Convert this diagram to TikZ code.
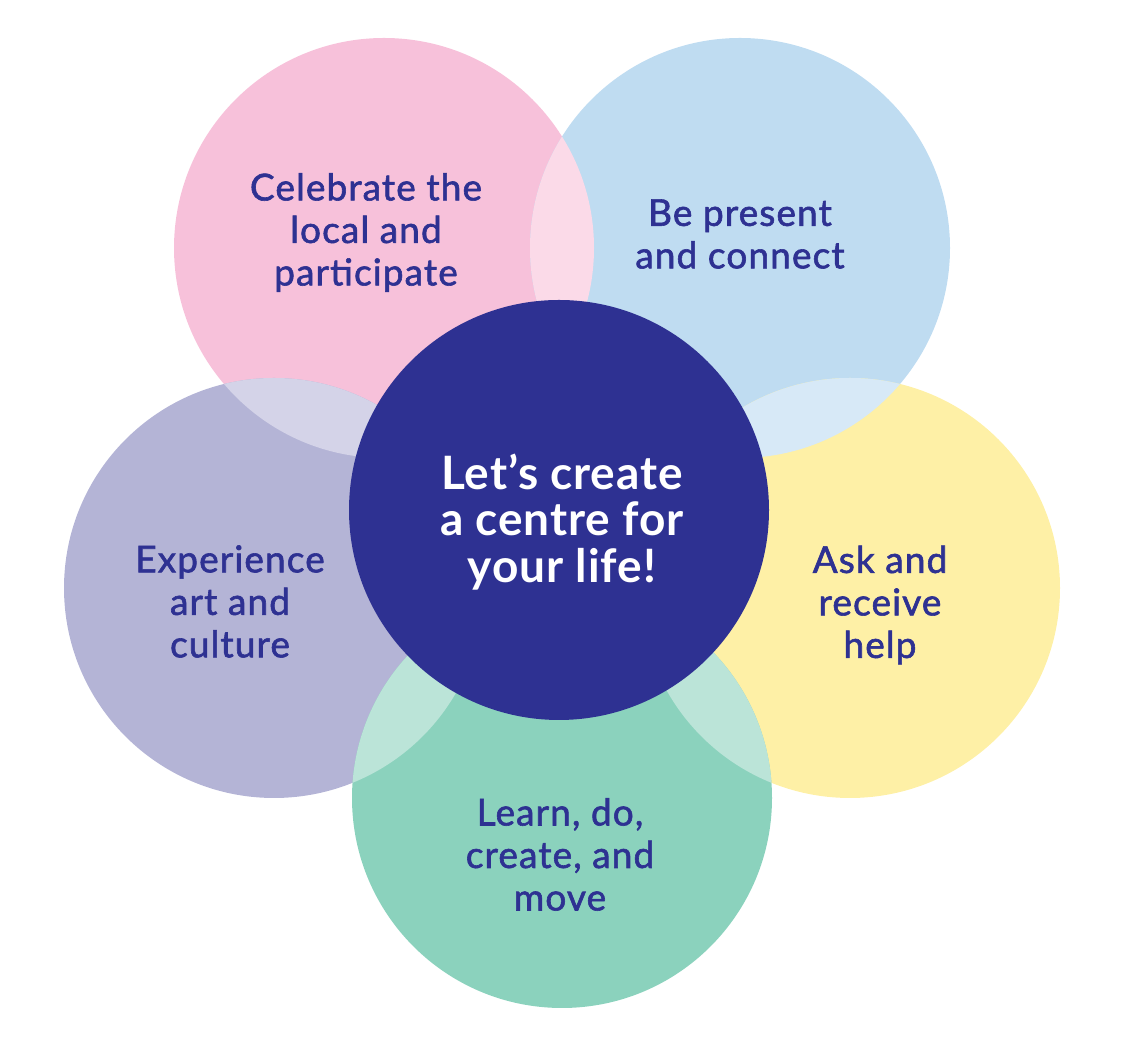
\documentclass[tikz,border=0pt]{standalone}
\usepackage{fontspec}
\setmainfont{Lato}
\newfontfamily\labelfont{Lato}[FakeBold=1.6,LetterSpace=3]
\newfontfamily\hubfont{Lato Bold}[LetterSpace=2]
\definecolor{pinkc}{HTML}{F7C1DA}
\definecolor{pinklt}{HTML}{FBDAE8}
\definecolor{bluec}{HTML}{BFDCF1}
\definecolor{bluelt}{HTML}{D7E9F7}
\definecolor{lavc}{HTML}{B4B4D6}
\definecolor{lavlt}{HTML}{D4D3E8}
\definecolor{yelc}{HTML}{FEF0A6}
\definecolor{greenc}{HTML}{8BD2BD}
\definecolor{greenlt}{HTML}{BBE4D8}
\definecolor{darkc}{HTML}{2E3192}
\tikzset{
  lbl/.style={text=darkc,align=center,inner sep=0pt,font=\labelfont\fontsize{37}{42.5}\selectfont},
  hub/.style={text=white,align=center,inner sep=0pt,font=\hubfont\fontsize{46}{46.5}\selectfont},
}
\begin{document}
\begin{tikzpicture}[x=1pt,y=1pt]
    \useasboundingbox (0,0) rectangle (1124,1048);
    \coordinate (pink) at (384,800);
    \coordinate (blue) at (740,800);
    \coordinate (lav) at (274,460);
    \coordinate (yel) at (850,460);
    \coordinate (green) at (562,250);
    \coordinate (hub) at (559,538);
    \fill[pinkc] (pink) circle (210pt);
    \fill[bluec] (blue) circle (210pt);
    \fill[lavc] (lav) circle (210pt);
    \fill[yelc] (yel) circle (210pt);
    \fill[greenc] (green) circle (210pt);
    \begin{scope}\clip (pink) circle (210pt);\fill[pinklt] (blue) circle (210pt);\end{scope}
    \begin{scope}\clip (pink) circle (210pt);\fill[lavlt] (lav) circle (210pt);\end{scope}
    \begin{scope}\clip (blue) circle (210pt);\fill[bluelt] (yel) circle (210pt);\end{scope}
    \begin{scope}\clip (green) circle (210pt);\fill[greenlt] (lav) circle (210pt);\end{scope}
    \begin{scope}\clip (green) circle (210pt);\fill[greenlt] (yel) circle (210pt);\end{scope}
    \fill[darkc] (hub) circle (210pt);
    \node[lbl] (celebrate) at (366,815.5) {Celebrate the\\local and\\participate};
    \node[lbl] (present) at (740,814) {Be present\\and connect};
    \node[lbl] (experience) at (230,446.5) {Experience\\art and\\culture};
    \node[lbl] (ask) at (880,443) {Ask and\\receive\\help};
    \node[lbl] (learn) at (560,193.5) {Learn, do,\\create, and\\move};
    \node[hub] (centre) at (562,526) {Let’s create\\a centre for\\your life!};
\end{tikzpicture}
\end{document}
